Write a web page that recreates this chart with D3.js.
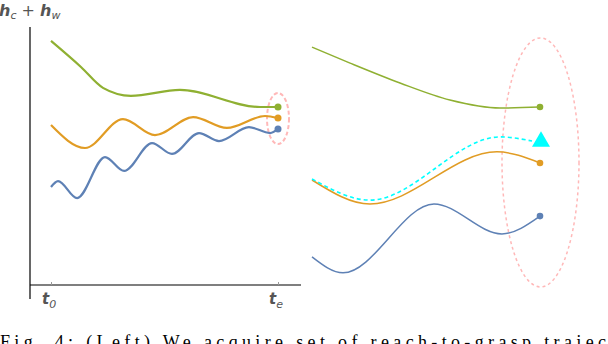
<!DOCTYPE html>
<html>
<head>
<meta charset="utf-8">
<script src="https://cdn.jsdelivr.net/npm/d3@7"></script>
<style>
  body { margin: 0; background: #fff; }
  svg { display: block; }
</style>
</head>
<body>
<div id="chart"></div>
<script>
// left panel: h_c + h_w over time, t in [0,1] (t0 .. te)
var leftGreenT = [0, 0.132, 0.229, 0.352, 0.568, 0.921, 1.0];
var leftGreenY = [9.46, 8.45, 7.64, 7.33, 7.56, 6.90, 6.90];
var leftOrangeT = [0, 0.150, 0.317, 0.458, 0.626, 0.775, 0.943, 1.0];
var leftOrangeY = [6.20, 5.31, 6.43, 5.81, 6.51, 6.09, 6.55, 6.47];
var leftBlueT = [0, 0.031, 0.115, 0.238, 0.322, 0.445, 0.533, 0.652, 0.740, 0.872, 0.965, 1.0];
var leftBlueY = [3.80, 4.03, 3.37, 4.96, 4.42, 5.50, 5.08, 5.89, 5.58, 6.12, 5.89, 6.05];
var leftGoal = {t: 1, y: 6.45};
var tickLabels = [{t: 0, base: "t", sub: "0"}, {t: 1, base: "t", sub: "e"}];

// right panel: the same trajectories in the workspace
var rightGreenX = [0, 0.167, 0.386, 0.605, 0.825, 1.0];
var rightGreenY = [9.22, 8.60, 7.83, 7.17, 6.86, 6.90];
var rightCyanX = [0, 0.254, 0.825, 0.965];
var rightCyanY = [4.11, 3.29, 5.74, 5.58];
var rightOrangeX = [0, 0.254, 0.811, 1.0];
var rightOrangeY = [4.07, 3.14, 5.16, 4.73];
var rightBlueX = [0, 0.136, 0.535, 0.833, 1.0];
var rightBlueY = [1.09, 0.47, 3.14, 1.98, 2.67];
var rightTarget = {x: 1, y: 5.56};
var rightGoal = {x: 1, y: 4.75};

var captionText = "Fig. 4: (Left) We acquire set of reach-to-grasp trajec";

var colors = {green: "#8fb032", orange: "#e19c24", blue: "#5e81b5", cyan: "#00ffff", pink: "#ffb8b8"};

var W = 608, H = 344;
var svg = d3.select("#chart").append("svg").attr("width", W).attr("height", H);

function zip(xs, ys) {
  return xs.map(function(x, i) { return [x, ys[i]]; });
}

// ---------- left ----------
var xL = d3.scaleLinear().domain([0, 1]).range([51, 278]);
var yL = d3.scaleLinear().domain([0, 10]).range([285, 27]);

var left = svg.append("g").attr("class", "left");

left.append("line").attr("x1", 30).attr("x2", 30).attr("y1", 27).attr("y2", 299)
    .attr("stroke", "#000").attr("stroke-width", 1.2);
left.append("line").attr("x1", 30).attr("x2", 301).attr("y1", 285).attr("y2", 285)
    .attr("stroke", "#000").attr("stroke-width", 1.2);

var axisG = left.append("g").attr("transform", "translate(0,285)")
    .call(d3.axisBottom(xL).tickValues([0, 1]).tickSizeInner(-3).tickSizeOuter(0).tickFormat(""));
axisG.select(".domain").remove();
axisG.selectAll(".tick line").attr("stroke", "#999");

tickLabels.forEach(function(d) {
  var t = left.append("text")
      .attr("x", xL(d.t) - 9).attr("y", 304)
      .attr("font-family", "DejaVu Sans")
      .attr("fill", "#555");
  t.append("tspan").attr("font-size", 15).attr("font-weight", "bold").attr("font-style", "italic").text(d.base);
  t.append("tspan").attr("font-size", 11).attr("font-style", "italic").attr("dy", 4).text(d.sub);
});

var ylab = left.append("text").attr("x", -1).attr("y", 16)
    .attr("font-family", "DejaVu Sans").attr("fill", "#555");
ylab.append("tspan").attr("font-size", 16).attr("font-weight", "bold").attr("font-style", "italic").text("h");
ylab.append("tspan").attr("font-size", 11).attr("font-style", "italic").attr("dy", 3).text("c");
ylab.append("tspan").attr("font-size", 16).attr("dy", -3).text(" + ");
ylab.append("tspan").attr("font-size", 16).attr("font-weight", "bold").attr("font-style", "italic").text("h");
ylab.append("tspan").attr("font-size", 11).attr("font-style", "italic").attr("dy", 3).text("w");

var lineL = d3.line()
    .x(function(d) { return xL(d[0]); })
    .y(function(d) { return yL(d[1]); })
    .curve(d3.curveMonotoneX);

var leftSeries = [
  {pts: zip(leftGreenT, leftGreenY), c: colors.green},
  {pts: zip(leftOrangeT, leftOrangeY), c: colors.orange},
  {pts: zip(leftBlueT, leftBlueY), c: colors.blue}
];

left.append("ellipse")
    .attr("cx", xL(leftGoal.t)).attr("cy", yL(leftGoal.y))
    .attr("rx", 11).attr("ry", 25.5)
    .attr("fill", "none").attr("stroke", colors.pink)
    .attr("stroke-width", 2).attr("stroke-dasharray", "4,2.5");

leftSeries.forEach(function(s) {
  left.append("path").attr("d", lineL(s.pts))
      .attr("fill", "none").attr("stroke", s.c).attr("stroke-width", 2.2);
  var last = s.pts[s.pts.length - 1];
  left.append("circle").attr("cx", xL(last[0])).attr("cy", yL(last[1])).attr("r", 3.5).attr("fill", s.c);
});

// ---------- right ----------
var xR = d3.scaleLinear().domain([0, 1]).range([312, 540]);
var yR = d3.scaleLinear().domain([0, 10]).range([285, 27]);

var right = svg.append("g").attr("class", "right");

right.append("ellipse")
    .attr("cx", xR(rightGoal.x) + 0.5).attr("cy", yR(rightGoal.y))
    .attr("rx", 38.5).attr("ry", 124.5)
    .attr("fill", "none").attr("stroke", colors.pink)
    .attr("stroke-width", 1.5).attr("stroke-dasharray", "3,3");

var lineR = d3.line()
    .x(function(d) { return xR(d[0]); })
    .y(function(d) { return yR(d[1]); })
    .curve(d3.curveMonotoneX);

var rightSeries = [
  {pts: zip(rightGreenX, rightGreenY), c: colors.green, dot: true},
  {pts: zip(rightOrangeX, rightOrangeY), c: colors.orange, dot: true},
  {pts: zip(rightBlueX, rightBlueY), c: colors.blue, dot: true}
];

rightSeries.forEach(function(s) {
  right.append("path").attr("d", lineR(s.pts))
      .attr("fill", "none").attr("stroke", s.c).attr("stroke-width", 1.5);
  var last = s.pts[s.pts.length - 1];
  right.append("circle").attr("cx", xR(last[0])).attr("cy", yR(last[1])).attr("r", 3.3).attr("fill", s.c);
});

right.append("path").attr("d", lineR(zip(rightCyanX, rightCyanY)))
    .attr("fill", "none").attr("stroke", colors.cyan)
    .attr("stroke-width", 1.6).attr("stroke-dasharray", "4,3");

right.append("path")
    .attr("d", d3.symbol().type(d3.symbolTriangle).size(140)())
    .attr("transform", "translate(" + (xR(rightTarget.x) + 1) + "," + yR(rightTarget.y) + ")")
    .attr("fill", colors.cyan);

// ---------- caption (cut off by the frame) ----------
svg.append("text")
    .attr("x", 0).attr("y", 348)
    .attr("font-family", "Liberation Serif")
    .attr("font-size", 18)
    .attr("textLength", 606)
    .attr("lengthAdjust", "spacing")
    .attr("fill", "#000")
    .text(captionText);
</script>
</body>
</html>
